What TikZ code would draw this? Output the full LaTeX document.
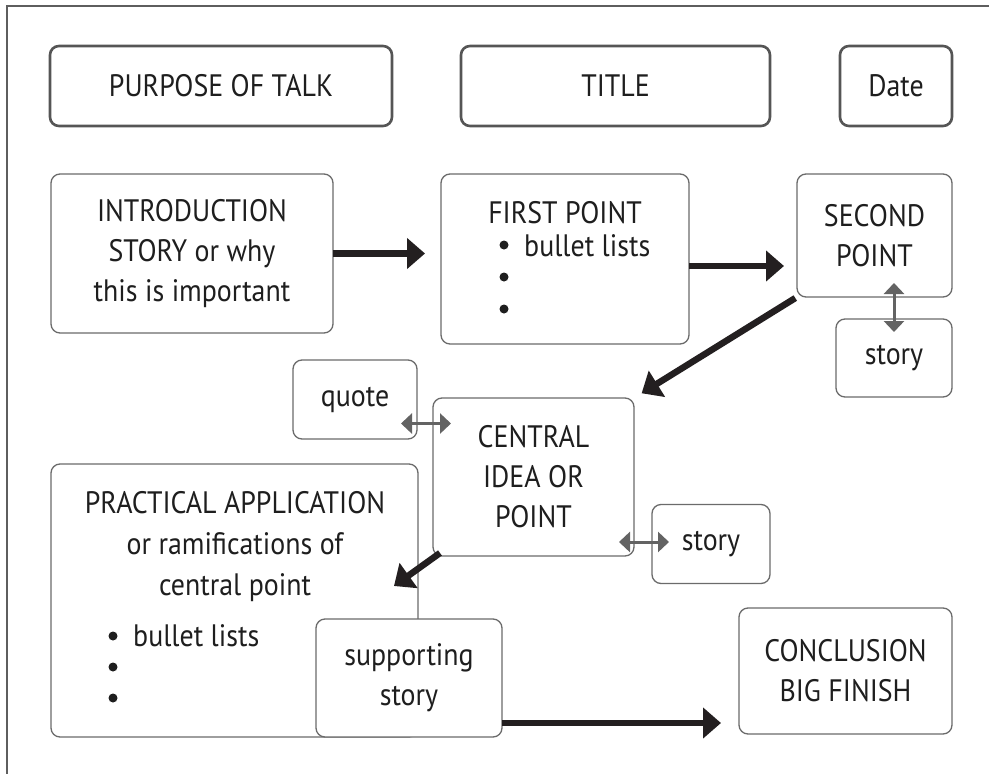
\documentclass[tikz,border=0pt]{standalone}
\usepackage{fontspec}
\setmainfont[FakeStretch=0.9]{PT Sans}
\usetikzlibrary{arrows.meta}
\definecolor{framegray}{HTML}{5E5E5E}
\definecolor{boxgray}{HTML}{6B6B6B}
\definecolor{topgray}{HTML}{555555}
\definecolor{arrowblack}{HTML}{231F20}
\definecolor{dblgray}{HTML}{636363}
\definecolor{inkblack}{HTML}{1E1E1E}
\begin{document}
\begin{tikzpicture}[x=1pt,y=-1pt,
  box/.style={draw=boxgray, line width=1.3pt, rounded corners=9pt, fill=white,
    inner sep=0pt, outer sep=0pt, align=center, text=inkblack,
    font=\fontsize{31}{40}\selectfont},
  topbox/.style={box, draw=topgray, line width=2.6pt},
  txt/.style={inner sep=0pt, text=inkblack, align=center, font=\fontsize{31}{41}\selectfont},
  dot/.style={circle, fill=inkblack, inner sep=0pt, minimum size=9pt},
  bigarrow/.style={draw=arrowblack, line width=6.5pt, -{Triangle[length=18pt,width=30pt]}},
  dblarrow/.style={draw=dblgray, line width=3pt,
    {Triangle[length=11pt,width=20pt]}-{Triangle[length=11pt,width=20pt]}},
]
\useasboundingbox (0,0) rectangle (989,774);
\fill[white] (0,0) rectangle (989,774);
\draw[framegray, line width=2.6pt] (7,774) -- (7,6) -- (989,6);

% top row
\node[topbox, minimum width=342pt, minimum height=80pt] (purpose) at (221,86) {PURPOSE OF TALK};
\node[topbox, minimum width=309pt, minimum height=80pt] (title) at (615.5,86) {TITLE};
\node[topbox, minimum width=112pt, minimum height=80pt] (date) at (896,86) {Date};

% second row
\node[box, minimum width=282pt, minimum height=159pt] (intro) at (192,253.5)
  {INTRODUCTION\\STORY or why\\this is important};
\node[box, minimum width=248pt, minimum height=170pt] (first) at (565,259) {};
\node[txt] (fptitle) at (565,213) {FIRST POINT};
\node[dot] (fd1) at (504,245) {};
\node[dot] (fd2) at (504,277) {};
\node[dot] (fd3) at (504,309) {};
\node[txt, anchor=west] (fptext) at (524,246) {bullet lists};
\node[box, minimum width=155pt, minimum height=123pt] (second) at (874.5,235.5) {SECOND\\POINT};
\node[box, minimum width=116pt, minimum height=78pt] (storyR) at (894,358) {story};

% middle
\node[box, minimum width=124pt, minimum height=79pt] (quote) at (355,399.5) {quote};
\node[box, minimum width=201pt, minimum height=158pt] (central) at (533.5,477) {CENTRAL\\IDEA OR\\POINT};
\node[box, minimum width=118pt, minimum height=79pt] (storyM) at (711,544) {story};

% bottom
\node[box, minimum width=367pt, minimum height=273pt] (practical) at (234.5,600.5) {};
\node[txt] (patitle) at (235,547) {PRACTICAL APPLICATION\\or ramifications of\\central point};
\node[dot] (pd1) at (113,636) {};
\node[dot] (pd2) at (113,667) {};
\node[dot] (pd3) at (113,698) {};
\node[txt, anchor=west] (patext) at (133,636) {bullet lists};
\node[box, minimum width=186pt, minimum height=118pt] (supporting) at (409,678) {supporting\\story};
\node[box, minimum width=213pt, minimum height=126pt] (conclusion) at (845.5,671) {CONCLUSION\\BIG FINISH};

% main flow arrows
\draw[bigarrow, shorten >=16pt] (intro.east) -- (intro.east -| first.west);
\coordinate (fa) at ([yshift=-7pt]first.east);
\draw[bigarrow, shorten >=13pt] (fa) -- (fa -| second.west);
\draw[bigarrow, shorten <=2pt, shorten >=9pt] (second.south west) -- (central.north east);
\coordinate (pa) at (394,586);
\draw[bigarrow] ([shift={(7pt,3pt)}]central.south west) -- (pa);
\coordinate (sa0) at ([yshift=-45pt]supporting.east);
\draw[bigarrow, shorten >=18pt] (sa0) -- (sa0 -| conclusion.west);

% side double arrows
\draw[dblarrow, shorten <=-14pt, shorten >=-13pt] (second.south -| storyR.north) -- (storyR.north);
\coordinate (qa) at ([yshift=-24pt]quote.east);
\draw[dblarrow, shorten <=-16pt, shorten >=-18pt] (qa) -- (qa -| central.west);
\coordinate (sa) at ([yshift=2pt]storyM.west);
\draw[dblarrow, shorten <=-17pt, shorten >=-15pt] (sa) -- (sa -| central.east);
\end{tikzpicture}
\end{document}
